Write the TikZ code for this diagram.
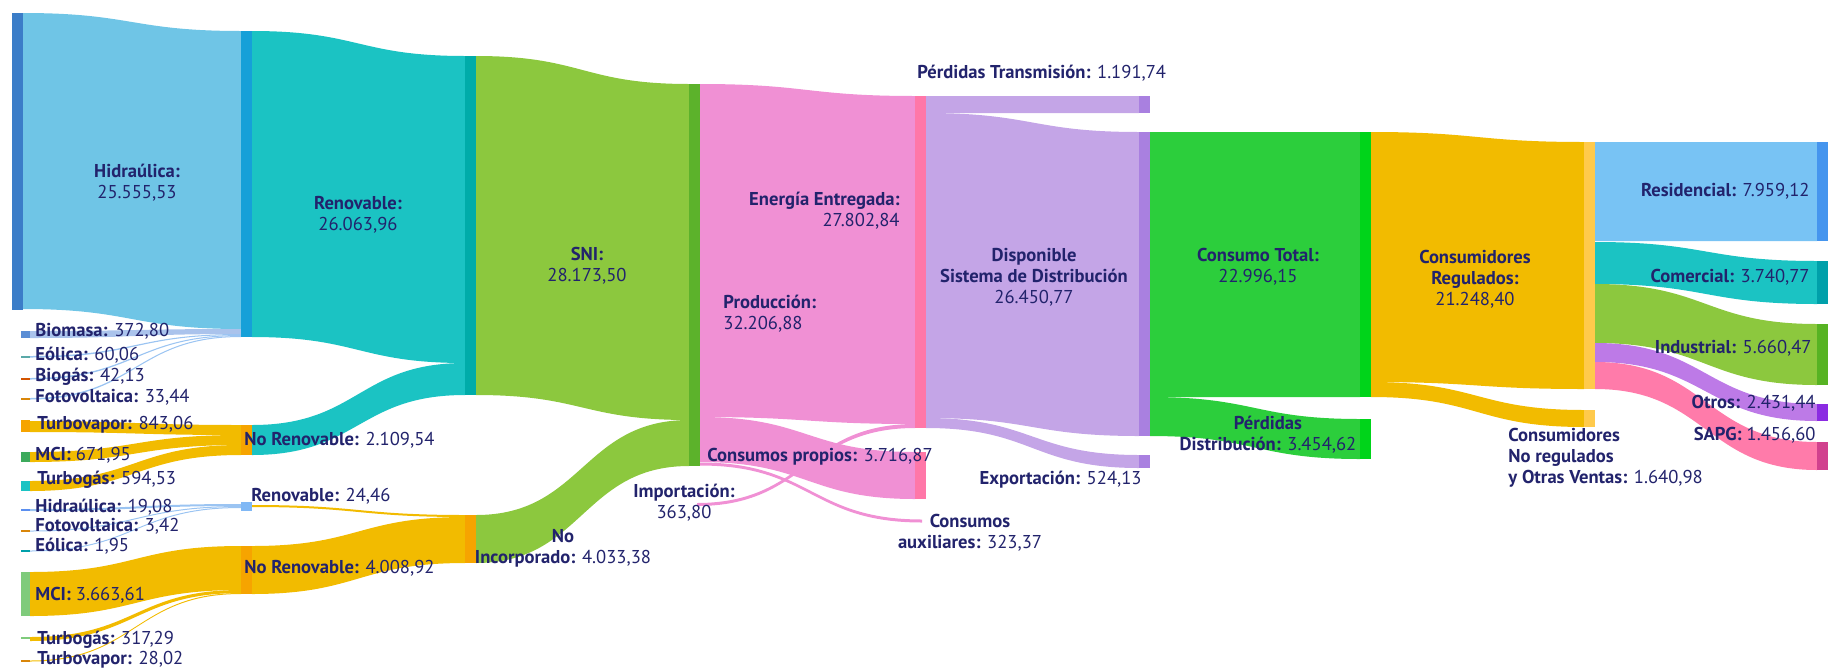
\documentclass[tikz,border=0pt]{standalone}
\usepackage{fontspec}
\setmainfont{PT Sans}
\definecolor{txt}{HTML}{22236C}
\definecolor{hidrnode}{HTML}{3B7DC8}
\definecolor{hidrflow}{HTML}{6FC5E6}
\definecolor{rennode}{HTML}{16A0D8}
\definecolor{tealflow}{HTML}{1BC3C3}
\definecolor{sninode}{HTML}{00ACA9}
\definecolor{greenflow}{HTML}{8CC83E}
\definecolor{prodnode}{HTML}{5CB22B}
\definecolor{pinkflow}{HTML}{F090D4}
\definecolor{eenode}{HTML}{FF77A8}
\definecolor{purpflow}{HTML}{C4A5E7}
\definecolor{dispnode}{HTML}{A980E0}
\definecolor{ctflow}{HTML}{2CCE3C}
\definecolor{ctnode}{HTML}{00D41A}
\definecolor{orflow}{HTML}{F2BB00}
\definecolor{crnode}{HTML}{FFCA4C}
\definecolor{resflow}{HTML}{78C3F4}
\definecolor{resnode}{HTML}{4595EE}
\definecolor{comnode}{HTML}{00A0AA}
\definecolor{indnode}{HTML}{57B323}
\definecolor{otflow}{HTML}{BD7AE7}
\definecolor{otnode}{HTML}{8B2BE2}
\definecolor{sapgflow}{HTML}{FF7BAA}
\definecolor{sapgnode}{HTML}{D1418E}
\definecolor{nrnode}{HTML}{F6A400}
\definecolor{biomflow}{HTML}{AAC3EC}
\definecolor{biomnode}{HTML}{5B8ED5}
\definecolor{eolnode}{HTML}{5AA9A8}
\definecolor{biognode}{HTML}{D35400}
\definecolor{fotonode}{HTML}{D9860A}
\definecolor{mcinode}{HTML}{3DAA5C}
\definecolor{thinblue}{HTML}{9BC4F2}
\definecolor{hidtwonode}{HTML}{5B8FF0}
\definecolor{rentwonode}{HTML}{80B8F5}
\definecolor{mcitwonode}{HTML}{7FCB7B}
\newcommand{\flowband}[7]{%
	\pgfmathsetmacro{\midx}{(#2+#5)/2}%
	\fill[#1] (#2,#3) .. controls (\midx,#3) and (\midx,#6) .. (#5,#6) -- (#5,#7) .. controls (\midx,#7) and (\midx,#4) .. (#2,#4) -- cycle;}
\newcommand{\nodebar}[5]{\fill[#1] (#2,#3) rectangle (#4,#5);}

\begin{document}
\begin{tikzpicture}[x=0.5pt,y=-0.5pt,
		lbl/.style={text=txt,inner sep=0pt,font=\fontsize{9.3}{10.4}\selectfont},
		lblc/.style={lbl,align=center}]
		\useasboundingbox (0,0) rectangle (1834,670);
		\flowband{hidrflow}{23}{13}{309}{241}{31}{329}
		\flowband{biomflow}{30}{331}{338}{241}{329}{334}
		\flowband{thinblue}{30}{356}{357.5}{241}{334}{335}
		\flowband{thinblue}{30}{378}{379.5}{241}{335}{336}
		\flowband{thinblue}{30}{398}{399.5}{241}{336}{337}
		\flowband{orflow}{30}{421}{432}{241}{425}{435}
		\flowband{orflow}{30}{452}{462}{241}{435}{445}
		\flowband{orflow}{30}{481}{491}{241}{445}{455}
		\flowband{thinblue}{30}{509}{511}{241}{504}{506}
		\flowband{thinblue}{30}{530.5}{531.5}{241}{506}{507}
		\flowband{thinblue}{30}{550.5}{551.5}{241}{507}{508}
		\flowband{orflow}{30}{572}{616}{241}{546}{590}
		\flowband{orflow}{30}{637}{641}{241}{590}{593}
		\flowband{orflow}{30}{660.5}{661.5}{241}{593}{594}
		\flowband{tealflow}{252}{31}{337}{465}{56}{363}
		\flowband{tealflow}{252}{425}{455}{465}{363}{395}
		\flowband{orflow}{252}{505}{507}{465}{515}{517}
		\flowband{orflow}{252}{546}{594}{465}{517}{563}
		\flowband{greenflow}{476}{56}{395}{689}{84}{420}
		\flowband{greenflow}{476}{515}{563}{689}{420}{466}
		\flowband{pinkflow}{700}{84}{417}{915}{96}{424}
		\flowband{pinkflow}{700}{417}{462}{915}{452}{499}
		\flowband{pinkflow}{700}{462.5}{465.5}{922}{519.5}{522.5}
		\flowband{pinkflow}{697}{503}{506}{915}{424}{428}
		\flowband{purpflow}{926}{96}{113}{1139}{96}{113}
		\flowband{purpflow}{926}{113}{418}{1139}{132}{436}
		\flowband{purpflow}{926}{418}{428}{1139}{455}{468}
		\flowband{ctflow}{1150}{132}{397}{1360}{132}{397}
		\flowband{ctflow}{1150}{397}{436}{1360}{419}{459}
		\flowband{orflow}{1371}{132}{382}{1584}{142}{389}
		\flowband{orflow}{1371}{382}{397}{1584}{410}{427}
		\flowband{resflow}{1595}{142}{241}{1817}{142}{241}
		\flowband{tealflow}{1595}{242}{284}{1817}{261}{304}
		\flowband{greenflow}{1595}{284}{343}{1817}{324}{385}
		\flowband{otflow}{1595}{343}{362}{1817}{404}{421}
		\flowband{sapgflow}{1595}{362}{389}{1817}{442}{470}
		\nodebar{hidrnode}{12}{13}{23}{310}
		\nodebar{biomnode}{21}{331}{30}{338}
		\nodebar{eolnode}{21}{356}{30}{358}
		\nodebar{biognode}{21}{378}{30}{380}
		\nodebar{fotonode}{21}{398}{30}{400}
		\nodebar{nrnode}{21}{420}{30}{432}
		\nodebar{mcinode}{21}{452}{30}{462}
		\nodebar{tealflow}{21}{481}{30}{491}
		\nodebar{hidtwonode}{21}{509}{30}{511}
		\nodebar{fotonode}{21}{530}{30}{532}
		\nodebar{comnode}{21}{550}{30}{552}
		\nodebar{mcitwonode}{21}{572}{30}{616}
		\nodebar{mcitwonode}{21}{637}{30}{639}
		\nodebar{fotonode}{21}{660}{30}{662}
		\nodebar{rennode}{241}{31}{252}{337}
		\nodebar{nrnode}{241}{425}{252}{455}
		\nodebar{rentwonode}{241}{502}{252}{511}
		\nodebar{nrnode}{241}{546}{252}{594}
		\nodebar{sninode}{465}{56}{476}{395}
		\nodebar{nrnode}{465}{515}{476}{563}
		\nodebar{prodnode}{689}{84}{700}{466}
		\nodebar{eenode}{915}{96}{926}{428}
		\nodebar{eenode}{915}{452}{926}{499}
		\nodebar{dispnode}{1139}{96}{1150}{113}
		\nodebar{dispnode}{1139}{132}{1150}{436}
		\nodebar{dispnode}{1139}{455}{1150}{468}
		\nodebar{ctnode}{1360}{132}{1371}{397}
		\nodebar{ctnode}{1360}{419}{1371}{459}
		\nodebar{crnode}{1584}{142}{1595}{389}
		\nodebar{crnode}{1584}{410}{1595}{427}
		\nodebar{resnode}{1817}{142}{1828}{241}
		\nodebar{comnode}{1817}{261}{1828}{304}
		\nodebar{indnode}{1817}{324}{1828}{385}
		\nodebar{otnode}{1817}{404}{1828}{421}
		\nodebar{sapgnode}{1817}{442}{1828}{470}
		\node[lblc] (hidr) at (137,183) {\textbf{Hidraúlica:}\\25.555,53};
		\node[lbl,anchor=west] (biom) at (35,331) {\textbf{Biomasa:} 372,80};
		\node[lbl,anchor=west] (eolA) at (35,355) {\textbf{Eólica:} 60,06};
		\node[lbl,anchor=west] (biog) at (35,377) {\textbf{Biogás:} 42,13};
		\node[lbl,anchor=west] (fotoA) at (35,397) {\textbf{Fotovoltaica:} 33,44};
		\node[lbl,anchor=west] (tvapA) at (37,425) {\textbf{Turbovapor:} 843,06};
		\node[lbl,anchor=west] (mciA) at (35,455) {\textbf{MCI:} 671,95};
		\node[lbl,anchor=west] (tgasA) at (37,480) {\textbf{Turbogás:} 594,53};
		\node[lbl,anchor=west] (hidrB) at (35,507) {\textbf{Hidraúlica:} 19,08};
		\node[lbl,anchor=west] (fotoB) at (35,526) {\textbf{Fotovoltaica:} 3,42};
		\node[lbl,anchor=west] (eolB) at (35,546) {\textbf{Eólica:} 1,95};
		\node[lbl,anchor=west] (mciB) at (35,595) {\textbf{MCI:} 3.663,61};
		\node[lbl,anchor=west] (tgasB) at (37,640) {\textbf{Turbogás:} 317,29};
		\node[lbl,anchor=west] (tvapB) at (37,660) {\textbf{Turbovapor:} 28,02};
		\node[lblc] (renA) at (358,215) {\textbf{Renovable:}\\26.063,96};
		\node[lbl,anchor=west] (nrA) at (244,440) {\textbf{No Renovable:} 2.109,54};
		\node[lbl,anchor=west] (renB) at (251,496) {\textbf{Renovable:} 24,46};
		\node[lbl,anchor=west] (nrB) at (244,568) {\textbf{No Renovable:} 4.008,92};
		\node[lblc] (sni) at (587,266) {\textbf{SNI:}\\28.173,50};
		\node[lblc] (noinc) at (563,548) {\textbf{No}\\\textbf{Incorporado:} 4.033,38};
		\node[lbl,align=right,anchor=east] (ee) at (900,211) {\textbf{Energía Entregada:}\\27.802,84};
		\node[lbl,align=left,anchor=west] (prod) at (723,314) {\textbf{Producción:}\\32.206,88};
		\node[lbl,anchor=west] (cprop) at (707,457) {\textbf{Consumos propios:} 3.716,87};
		\node[lblc] (imp) at (684,503) {\textbf{Importación:}\\363,80};
		\node[lbl,anchor=west] (ptrans) at (917,73) {\textbf{Pérdidas Transmisión:} 1.191,74};
		\node[lblc] (disp) at (1034,277) {\textbf{Disponible}\\\textbf{Sistema de Distribución}\\26.450,77};
		\node[lbl,anchor=east] (expo) at (1142,480) {\textbf{Exportación:} 524,13};
		\node[lblc] (caux) at (970,533) {\textbf{Consumos}\\\textbf{auxiliares:} 323,37};
		\node[lblc] (ctot) at (1258,267) {\textbf{Consumo Total:}\\22.996,15};
		\node[lblc] (pdist) at (1268,435) {\textbf{Pérdidas}\\\textbf{Distribución:} 3.454,62};
		\node[lblc] (creg) at (1475,279) {\textbf{Consumidores}\\\textbf{Regulados:}\\21.248,40};
		\node[lbl,align=left,anchor=west] (cnoreg) at (1508,458) {\textbf{Consumidores}\\\textbf{No regulados}\\\textbf{y Otras Ventas:} 1.640,98};
		\node[lbl,anchor=east] (resi) at (1810,191) {\textbf{Residencial:} 7.959,12};
		\node[lbl,anchor=east] (come) at (1810,277) {\textbf{Comercial:} 3.740,77};
		\node[lbl,anchor=east] (indu) at (1812,348) {\textbf{Industrial:} 5.660,47};
		\node[lbl,anchor=east] (otro) at (1816,403) {\textbf{Otros:} 2.431,44};
		\node[lbl,anchor=east] (sapg) at (1816,435) {\textbf{SAPG:} 1.456,60};
	\end{tikzpicture}
\end{document}
